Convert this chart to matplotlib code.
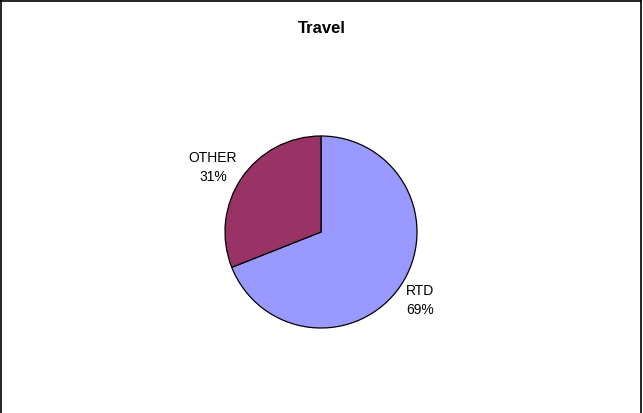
import numpy as np
import matplotlib.pyplot as plt
from matplotlib.lines import Line2D

categories = ["RTD", "OTHER"]
shares = [69, 31]
colors = ["#9999FF", "#993366"]

plt.rcParams["font.family"] = ["Liberation Sans", "DejaVu Sans"]

W, H = 643, 414
fig = plt.figure(figsize=(W / 100, H / 100), dpi=100)

# pie centred at (321, 233) px, radius 96 px
cx, cy, r = 321, 233, 96
ax = fig.add_axes([(cx - r) / W, (H - cy - r) / H, 2 * r / W, 2 * r / H])
wedges, _ = ax.pie(
    shares,
    colors=colors,
    startangle=90,
    counterclock=False,
    radius=1,
    wedgeprops=dict(edgecolor="black", linewidth=0.9),
)
ax.set_xlim(-1, 1)
ax.set_ylim(-1, 1)
ax.set_aspect("equal")
ax.axis("off")

# labels sit just outside the wedges, centred text
label_pos = {"RTD": (1.25, 0.0), "OTHER": (1.36, -0.08)}
total = sum(shares)
for w, name, v in zip(wedges, categories, shares):
    mid = np.deg2rad((w.theta1 + w.theta2) / 2)
    d, dy = label_pos[name]
    ax.text(d * np.cos(mid), d * np.sin(mid) + dy, f"{name}\n{v / total * 100:.0f}%",
            ha="center", va="center", fontsize=10, linespacing=1.5, clip_on=False)

fig.text(0.5, 1 - 28.5 / H, "Travel", ha="center", va="center",
         fontsize=12, fontweight="bold")

# chart frame
for xs, ys in [([0.5, 0.5], [0, H - 1.5]), ([0.5, W - 2], [H - 1.5, H - 1.5]),
               ([W - 2, W - 2], [0, H - 1.5])]:
    fig.add_artist(Line2D([x / W for x in xs], [y / H for y in ys],
                          transform=fig.transFigure, color="black", linewidth=1.2))

fig.savefig("out.png", dpi=100)
